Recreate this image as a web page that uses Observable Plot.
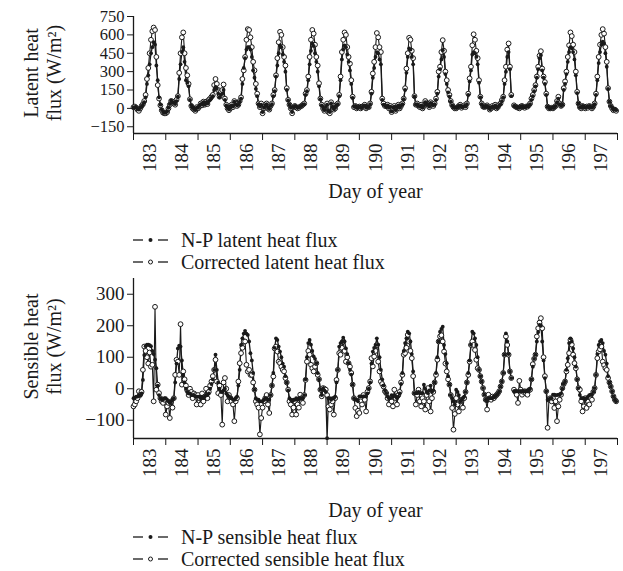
<!DOCTYPE html>
<html>
<head>
<meta charset="utf-8">
<script src="https://cdn.jsdelivr.net/npm/d3@7"></script>
<script src="https://cdn.jsdelivr.net/npm/@observablehq/plot@0.6"></script>
<style>
  html, body { margin: 0; padding: 0; background: #fff; }
  #wrap { position: relative; width: 623px; height: 571px; overflow: hidden; font-family: "Liberation Serif", "DejaVu Serif", serif; color: #1a1a1a; }
  .panel { position: absolute; left: 0; }
  .legend { position: absolute; left: 133px; font-size: 20px; line-height: 22px; }
  .legend div { display: flex; align-items: center; height: 22px; white-space: nowrap; }
  .legend svg { margin-right: 13px; }
</style>
</head>
<body>
<div id="wrap">
  <div class="panel" id="top" style="top:0px"></div>
  <div class="legend" style="top:229px">
    <div><svg width="35" height="10"><line x1="0" x2="10" y1="5" y2="5" stroke="#1a1a1a" stroke-width="1.3"/><circle cx="17.5" cy="5" r="2" fill="#1a1a1a"/><line x1="25" x2="35" y1="5" y2="5" stroke="#1a1a1a" stroke-width="1.3"/></svg>N-P latent heat flux</div>
    <div><svg width="35" height="10"><line x1="0" x2="10" y1="5" y2="5" stroke="#1a1a1a" stroke-width="1.3"/><circle cx="17.5" cy="5" r="2" fill="#fff" stroke="#1a1a1a" stroke-width="1"/><line x1="25" x2="35" y1="5" y2="5" stroke="#1a1a1a" stroke-width="1.3"/></svg>Corrected latent heat flux</div>
  </div>
  <div class="panel" id="bottom" style="top:270px"></div>
  <div class="legend" style="top:526px">
    <div><svg width="35" height="10"><line x1="0" x2="10" y1="5" y2="5" stroke="#1a1a1a" stroke-width="1.3"/><circle cx="17.5" cy="5" r="2" fill="#1a1a1a"/><line x1="25" x2="35" y1="5" y2="5" stroke="#1a1a1a" stroke-width="1.3"/></svg>N-P sensible heat flux</div>
    <div><svg width="35" height="10"><line x1="0" x2="10" y1="5" y2="5" stroke="#1a1a1a" stroke-width="1.3"/><circle cx="17.5" cy="5" r="2" fill="#fff" stroke="#1a1a1a" stroke-width="1"/><line x1="25" x2="35" y1="5" y2="5" stroke="#1a1a1a" stroke-width="1.3"/></svg>Corrected sensible heat flux</div>
  </div>
</div>
<script>
// Day-of-year categories (each day sampled hourly, hours 0..23)
const days = [183,184,185,186,187,188,189,190,191,192,193,194,195,196,197];
const hours = [0,1,2,3,4,5,6,7,8,9,10,11,12,13,14,15,16,17,18,19,20,21,22,23];

const latentTicks = [-150, 0, 150, 300, 450, 600, 750];
const sensibleTicks = [-100, 0, 100, 200, 300];

// Latent heat flux (W/m2), N-P
const latentNP = [
 [5,10,10,-5,-10,5,15,30,50,90,200,270,360,450,500,540,520,350,230,90,30,-10,-30,-35],
 [-35,-25,5,35,65,50,45,35,60,95,240,360,460,500,380,230,210,180,70,25,5,-5,-15,5],
 [5,20,35,30,50,30,50,40,60,70,85,100,150,175,160,120,90,110,120,150,70,25,5,-10],
 [5,25,15,55,35,25,30,55,80,200,330,410,480,500,500,480,420,310,250,160,100,35,15,30],
 [-30,5,20,35,5,-5,20,35,100,140,260,350,450,515,500,440,380,300,150,65,30,5,-30,10],
 [20,15,5,10,15,20,30,35,110,140,230,360,470,530,510,450,380,300,180,75,25,5,-15,10],
 [30,-20,-30,40,15,-5,5,25,35,100,230,400,480,515,500,440,380,310,200,85,15,20,5,10],
 [15,5,10,20,25,5,15,10,35,120,250,330,420,460,450,400,360,70,30,25,10,25,5,15],
 [-25,5,15,-15,10,25,5,20,35,75,150,290,420,490,480,420,360,95,30,35,20,15,25,5],
 [20,50,35,30,15,45,30,25,35,70,120,260,320,400,475,420,280,200,130,95,55,25,10,5],
 [5,10,20,25,10,15,20,15,35,110,220,310,440,460,450,420,360,210,90,35,15,10,20,20],
 [10,-5,5,15,10,25,5,10,25,35,60,90,200,300,420,460,320,100,null,20,15,10,5,5],
 [15,20,10,10,15,15,25,35,70,100,140,180,250,320,410,435,310,250,200,110,15,5,0,5],
 [5,10,20,50,80,35,20,30,150,200,280,380,460,500,490,460,400,270,125,40,10,5,20,10],
 [5,15,10,20,10,5,15,35,110,230,370,460,520,545,530,450,340,160,55,20,5,-10,-5,-15]
];
// Latent heat flux (W/m2), corrected
const latentCorr = [
 [10,15,5,-10,-20,0,20,35,60,110,240,330,450,560,630,660,640,420,190,80,25,-15,-35,-40],
 [-40,-30,0,30,60,55,40,30,70,100,290,450,580,620,450,330,270,200,75,20,0,-10,-20,10],
 [0,15,40,25,55,30,55,35,70,80,95,110,190,240,200,150,95,135,150,195,80,30,0,-15],
 [0,30,10,60,40,20,30,60,90,240,310,420,560,647,640,580,500,380,310,200,120,40,10,40],
 [-40,0,20,40,0,-10,20,40,110,150,270,410,540,625,600,500,420,350,165,70,30,0,-40,10],
 [20,10,0,5,15,20,30,40,120,150,260,420,560,640,610,520,420,350,205,80,30,0,-20,10],
 [40,-30,-40,50,20,-10,0,30,40,110,260,460,560,620,600,500,420,365,230,95,10,20,0,10],
 [15,0,10,20,30,0,15,10,40,135,285,380,500,615,580,500,460,80,40,20,25,30,0,20],
 [-30,0,20,-20,10,30,0,20,40,80,165,325,450,576,560,470,410,100,30,40,20,10,30,0],
 [20,60,40,30,10,50,30,20,40,80,135,300,340,460,557,470,300,230,150,110,60,27,10,0],
 [0,10,20,30,5,15,25,10,40,120,245,340,515,605,560,470,410,230,95,40,15,10,20,25],
 [10,-10,0,20,10,30,0,10,30,40,68,95,230,340,480,530,340,110,null,25,15,10,5,0],
 [15,20,10,5,15,14,25,40,80,110,150,190,260,340,430,467,325,260,215,120,14,0,0,5],
 [0,10,20,60,95,40,20,30,165,220,300,420,515,620,590,520,460,300,135,40,10,0,20,10],
 [0,15,5,20,10,0,15,40,120,260,420,520,600,647,610,500,380,165,55,20,0,-15,-10,-20]
];
// Sensible heat flux (W/m2), N-P
const sensibleNP = [
 [-30,-28,-25,-25,-20,-22,-15,28,107,135,140,140,138,135,120,110,92,65,10,-20,-30,-35,-35,-30],
 [-30,-35,-40,-45,-40,-35,-30,20,80,128,137,134,90,44,20,0,-10,-15,-15,-20,-20,-20,-25,-25],
 [-25,-25,-30,-25,-30,-25,-20,-20,-15,0,15,30,60,108,60,20,0,-10,-10,-5,0,-15,-20,-25],
 [-30,-30,-35,-35,-30,-25,10,60,139,160,175,184,175,171,150,113,90,50,-3,-30,-35,-35,-40,-40],
 [-40,-35,-30,-30,-35,-35,-20,10,50,130,160,155,134,118,100,80,70,40,20,-5,-30,-35,-40,-35],
 [-35,-30,-35,-30,-30,-30,-30,-20,30,100,145,155,140,120,103,95,81,50,30,-3,-20,0,-5,-10],
 [-157,-30,-30,-35,-30,-30,-25,20,60,134,145,150,162,150,128,110,81,60,45,13,-30,-35,-35,-40],
 [-24,-24,-25,-24,-24,-24,-15,0,20,80,118,130,139,160,140,100,60,30,10,-5,-14,-25,-30,-30],
 [-20,-25,-20,-25,-30,-25,-15,15,50,120,145,160,181,176,150,110,55,-14,-14,-14,-10,-14,-14,-14],
 [13,0,-10,-14,-5,10,-10,-5,20,50,100,150,181,190,197,139,110,81,40,13,-20,-30,-40,-50],
 [-3,-10,-20,-40,-35,-30,-25,-10,20,50,90,140,181,176,160,139,100,60,40,23,2,-19,-35,-40],
 [-30,-30,-30,-30,-25,-24,-20,-15,-8,7,23,50,108,176,150,110,55,34,null,-8,-8,-8,-8,-8],
 [-8,-8,-8,-8,-8,-8,-5,0,30,70,95,108,150,180,203,200,150,90,34,-8,-35,-35,-30,-30],
 [-19,-19,-20,-20,-19,-19,-15,0,15,23,60,97,145,160,150,128,100,70,30,2,-20,-30,-30,-30],
 [-35,-30,-25,-20,-19,-19,-10,2,44,110,139,150,155,145,120,108,80,40,20,7,-8,-24,-35,-40]
];
// Sensible heat flux (W/m2), corrected
const sensibleCorr = [
 [-56,-50,-40,-30,-8,-19,-10,60,134,120,100,80,115,70,76,-40,260,-3,13,-14,-30,-40,-45,-35],
 [-82,-56,-45,-93,-40,-60,-30,44,92,86,44,205,13,55,30,10,-5,-20,0,-10,-30,-15,-20,-50],
 [-20,-30,-50,-15,-40,-25,0,-30,-10,10,23,40,60,92,23,-14,10,-20,-114,20,34,0,-40,-20],
 [-30,-40,-50,-103,-40,-30,23,81,113,130,150,150,76,55,60,44,44,20,-3,-40,-50,-60,-145,-93],
 [-60,-40,-30,-20,-50,-77,-20,10,39,128,134,118,86,81,70,60,55,34,20,-3,-40,-50,-82,-60],
 [-40,-82,-50,-60,-19,-30,-45,-20,28,86,120,108,76,65,55,70,81,44,30,-3,-24,2,0,-3],
 [-20,-56,-66,-50,-40,-82,-30,28,60,113,108,130,150,120,86,100,81,70,50,13,-30,-61,-87,-70],
 [-77,-40,-50,-20,-35,-72,-10,2,23,97,71,102,120,139,86,55,23,15,7,-8,-14,-30,-50,-30],
 [-40,-56,-3,-30,-50,-20,-10,20,44,108,113,130,171,150,120,97,40,-14,-50,-20,-3,-40,-56,-30],
 [-40,-66,-20,2,-40,-72,-30,-10,20,44,92,150,166,170,150,118,80,55,30,13,-20,-61,-130,-80],
 [-30,-50,-72,-40,-35,-60,-30,-10,20,44,86,139,150,139,123,92,65,60,40,23,2,-19,-35,-66],
 [-19,-30,-35,-25,-30,-24,-20,-15,-8,7,23,50,108,166,139,108,55,34,null,-3,-10,-19,-45,25],
 [-3,-19,-10,-8,-15,-19,-5,-3,30,78,95,108,166,192,210,224,192,100,40,-8,-124,-35,-30,-40],
 [-30,-61,-40,-103,-56,-35,-19,2,15,23,55,76,113,155,140,108,81,65,30,2,-3,-40,-72,-56],
 [-30,-61,-40,-50,-30,-35,-10,2,44,97,118,125,134,86,75,65,60,34,20,7,-8,-24,-35,-40]
];

const ink = "#1a1a1a";
const font = "'Liberation Serif', 'DejaVu Serif', serif";
const fs = 20;

function rows(np, corr) {
  return days.flatMap((d, i) => hours.map(h => ({t: d + h / 24, np: np[i][h], corr: corr[i][h]})));
}

function panel({np, corr, yDomain, yTicks, yFs, title, height, marginTop, marginBottom, titleDy, xLabelDy}) {
  const data = rows(np, corr);
  const dayTicks = days.concat([days[days.length - 1] + 1]);
  const labelPos = days.map(d => d + 0.5);
  return Plot.plot({
    width: 623,
    height,
    marginLeft: 133,
    marginRight: 6,
    marginTop,
    marginBottom,
    style: {fontFamily: font, fontSize: fs + "px", color: ink, background: "white", overflow: "visible"},
    x: {domain: [183, 198], axis: null},
    y: {domain: yDomain, axis: null},
    marks: [
      Plot.ruleX([183], {stroke: ink, strokeWidth: 1.3}),
      Plot.ruleY([yDomain[0]], {stroke: ink, strokeWidth: 1.3}),
      Plot.axisY({ticks: yTicks, tickSize: 6, tickPadding: 3, fontSize: yFs, label: null, stroke: ink, color: ink}),
      Plot.axisX({ticks: dayTicks, tickSize: 7, tickFormat: () => "", label: null, stroke: ink}),
      Plot.axisX({ticks: labelPos, tickSize: 0, tickPadding: 10, tickRotate: -90, fontSize: 19, label: null,
                  tickFormat: d => String(Math.floor(d)), color: ink}),
      Plot.line(data, {x: "t", y: "corr", stroke: ink, strokeWidth: 1.1}),
      Plot.line(data, {x: "t", y: "np", stroke: ink, strokeWidth: 1.3}),
      Plot.dot(data, {x: "t", y: "corr", r: 2.4, fill: "white", stroke: ink, strokeWidth: 1}),
      Plot.dot(data, {x: "t", y: "np", r: 1.9, fill: ink, stroke: "none"}),
      Plot.text([title], {frameAnchor: "left", textAnchor: "middle", lineAnchor: "middle", dx: -91, dy: titleDy,
                          rotate: -90, lineHeight: 1.15, fontSize: fs, fill: ink, text: d => d}),
      Plot.text(["Day of year"], {frameAnchor: "bottom", dy: xLabelDy, fontSize: fs, fill: ink, text: d => d})
    ]
  });
}

document.getElementById("top").appendChild(panel({
  np: latentNP, corr: latentCorr, yDomain: [-205, 750], yTicks: latentTicks, yFs: 16.5,
  title: "Latent heat\nflux (W/m²)", height: 215, marginTop: 16, marginBottom: 82, titleDy: -2, xLabelDy: 64
}));
document.getElementById("bottom").appendChild(panel({
  np: sensibleNP, corr: sensibleCorr, yDomain: [-158, 350], yTicks: sensibleTicks, yFs: 19,
  title: "Sensible heat\nflux (W/m²)", height: 255, marginTop: 8, marginBottom: 87, titleDy: -12, xLabelDy: 78
}));
</script>
</body>
</html>
